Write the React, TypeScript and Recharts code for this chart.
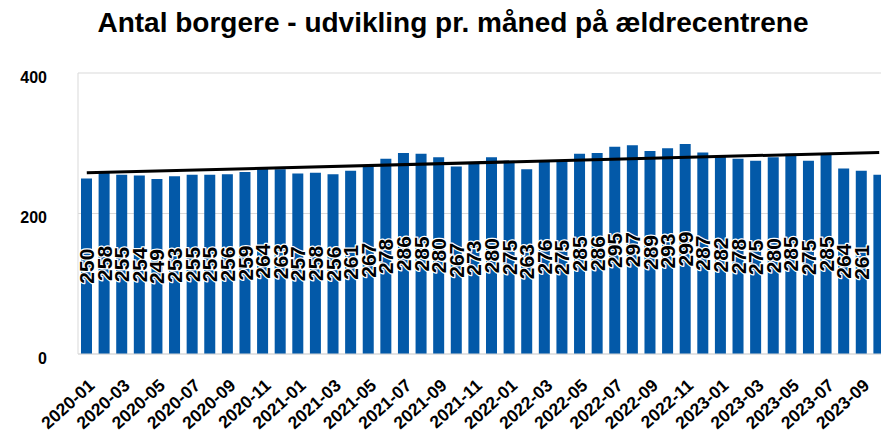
import { ComposedChart, Bar, Line, XAxis, YAxis, CartesianGrid } from 'recharts';

const months = [
  '2020-01', '2020-02', '2020-03', '2020-04', '2020-05', '2020-06', '2020-07', '2020-08', '2020-09', '2020-10', '2020-11', '2020-12',
  '2021-01', '2021-02', '2021-03', '2021-04', '2021-05', '2021-06', '2021-07', '2021-08', '2021-09', '2021-10', '2021-11', '2021-12',
  '2022-01', '2022-02', '2022-03', '2022-04', '2022-05', '2022-06', '2022-07', '2022-08', '2022-09', '2022-10', '2022-11', '2022-12',
  '2023-01', '2023-02', '2023-03', '2023-04', '2023-05', '2023-06', '2023-07', '2023-08', '2023-09', '2023-10',
];

const borgere = [
  250, 258, 255, 254, 249, 253, 255, 255, 256, 259, 264, 263,
  257, 258, 256, 261, 267, 278, 286, 285, 280, 267, 273, 280,
  275, 263, 276, 275, 285, 286, 295, 297, 289, 293, 299, 287,
  282, 278, 275, 280, 285, 275, 285, 264, 261, 255,
];

const trendStart = 258;
const trendEnd = 287;

const yTicks = [0, 200, 400];

const title = 'Antal borgere - udvikling pr. måned på ældrecentrene';

const data = months.map((m, i) => ({
  month: m,
  value: borgere[i],
  trend: i === 0 ? trendStart : i === months.length - 1 ? trendEnd : null,
}));

const FONT = '"Liberation Sans", Arial, sans-serif';
const BLUE = '#0359a8';

const ValueLabel = (props: any) => {
  const { x, y, width, height, value, index } = props;
  if (index === borgere.length - 1) return null; // cut off at the right edge
  const cx = Number(x) + Number(width) / 2;
  const cy = Number(y) + Number(height) / 2;
  return (
    <text
      x={cx}
      y={cy}
      transform={`rotate(-90, ${cx}, ${cy})`}
      textAnchor="middle"
      dy="0.36em"
      fontFamily={FONT}
      fontSize={21}
      fontWeight="bold"
      fill="#000"
      stroke="#fff"
      strokeWidth={2.5}
      strokeLinejoin="round"
      paintOrder="stroke"
    >
      {value}
    </text>
  );
};

const MonthTick = (props: any) => {
  const { x, y, payload } = props;
  const tx = x + 9;
  const ty = y + 33;
  return (
    <text
      x={tx}
      y={ty}
      transform={`rotate(-42, ${tx}, ${ty})`}
      textAnchor="end"
      fontFamily={FONT}
      fontSize={17.5}
      fontWeight="bold"
      fill="#000"
    >
      {payload.value}
    </text>
  );
};

const ValueTick = (props: any) => {
  const { y, payload } = props;
  return (
    <text x={47} y={y + 4} dy="0.36em" textAnchor="end" fontFamily={FONT} fontSize={16} fontWeight="bold" fill="#000">
      {payload.value}
    </text>
  );
};

export default function App() {
  return (
    <div
      style={{
        position: 'fixed',
        left: 0,
        top: 0,
        width: 881,
        height: 438,
        overflow: 'hidden',
        background: '#fff',
      }}
    >
      <svg width={881} height={50} style={{ position: 'absolute', left: 0, top: 0 }}>
        <text x={453} y={32} textAnchor="middle" fontFamily={FONT} fontSize={28} fontWeight="bold" fill="#000">
          {title}
        </text>
      </svg>
      <ComposedChart
        width={888}
        height={438}
        data={data}
        margin={{ top: 73, right: 0, left: 0, bottom: 0 }}
        barSize={11}
      >
        <CartesianGrid vertical={false} stroke="#d9d9d9" />
        <XAxis
          dataKey="month"
          height={84}
          interval={1}
          tickLine={false}
          tickSize={0}
          tickMargin={0}
          axisLine={{ stroke: '#d9d9d9' }}
          tick={<MonthTick />}
        />
        <YAxis
          width={78}
          domain={[0, 400]}
          ticks={yTicks}
          tickLine={false}
          axisLine={{ stroke: '#d9d9d9' }}
          tick={<ValueTick />}
        />
        <Bar dataKey="value" fill={BLUE} isAnimationActive={false} label={<ValueLabel />} />
        <Line
          dataKey="trend"
          stroke="#000"
          strokeWidth={3}
          dot={false}
          connectNulls
          isAnimationActive={false}
        />
      </ComposedChart>
    </div>
  );
}
